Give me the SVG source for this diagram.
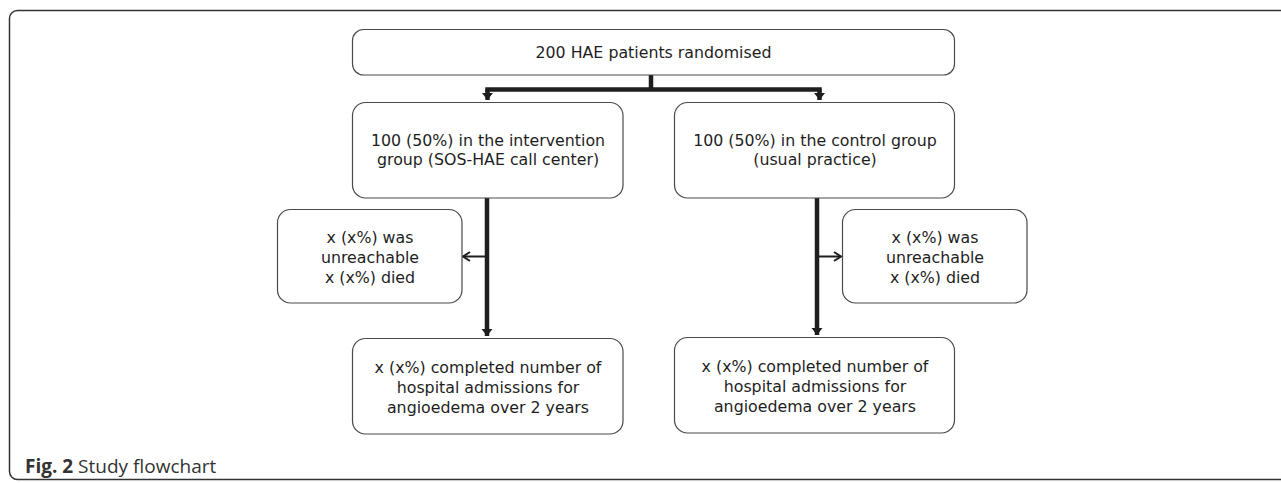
<svg xmlns="http://www.w3.org/2000/svg" width="1281" height="483" viewBox="0 0 1281 483">
  <style>
    .box { fill: #ffffff; stroke: #4a4a4a; stroke-width: 1.2; }
    .t { font-family: "DejaVu Sans", sans-serif; font-size: 15.8px; fill: #1e1e1e; text-anchor: middle; }
    .thick { fill: none; stroke: #1e1e1e; stroke-width: 4.5; }
    .thin { fill: none; stroke: #1e1e1e; stroke-width: 2; }
    .cap { font-family: "Open Sans", "Noto Sans", sans-serif; font-size: 19px; fill: #333333; }
  </style>
  <defs>
    <marker id="down" markerUnits="userSpaceOnUse" markerWidth="12" markerHeight="12" refX="8" refY="6" orient="auto" viewBox="0 0 12 12">
      <path d="M1,0.5 L1,11.5 L8,6 Z" fill="#1e1e1e"/>
    </marker>
    <marker id="open" markerUnits="userSpaceOnUse" markerWidth="12" markerHeight="12" refX="10" refY="6" orient="auto" viewBox="0 0 12 12">
      <path d="M3,1.5 L10,6 L3,10.5" fill="none" stroke="#1e1e1e" stroke-width="2"/>
    </marker>
  </defs>

  <rect x="9.5" y="10.5" width="1290" height="469" rx="8" ry="8" fill="#ffffff" stroke="#333333" stroke-width="1.5"/>

  <g id="connectors">
    <path class="thick" d="M651,75 L651,89.5"/>
    <path class="thick" d="M485.25,89.5 L821.75,89.5"/>
    <path class="thick" d="M487.5,89.5 L487.5,100" marker-end="url(#down)"/>
    <path class="thick" d="M819.5,89.5 L819.5,100" marker-end="url(#down)"/>
    <path class="thick" d="M487,198 L487,336" marker-end="url(#down)"/>
    <path class="thick" d="M817,198 L817,335" marker-end="url(#down)"/>
    <path class="thin" d="M487,256.5 L463,256.5" marker-end="url(#open)"/>
    <path class="thin" d="M817,256.5 L841,256.5" marker-end="url(#open)"/>
  </g>

  <g id="n-randomised">
    <rect class="box" x="352.5" y="29.5" width="602" height="45.5" rx="11"/>
    <text class="t" x="653.5" y="58">200 HAE patients randomised</text>
  </g>

  <g id="n-intervention">
    <rect class="box" x="352.5" y="102.5" width="270.5" height="95.5" rx="13"/>
    <text class="t" x="488" y="146">100 (50%) in the intervention</text>
    <text class="t" x="488" y="165">group (SOS-HAE call center)</text>
  </g>

  <g id="n-control">
    <rect class="box" x="674.5" y="102.5" width="280" height="95.5" rx="13"/>
    <text class="t" x="815" y="146">100 (50%) in the control group</text>
    <text class="t" x="815" y="165">(usual practice)</text>
  </g>

  <g id="n-lost-left">
    <rect class="box" x="277.5" y="209.5" width="184.5" height="93.5" rx="13"/>
    <text class="t" x="370" y="243">x (x%) was</text>
    <text class="t" x="370" y="263">unreachable</text>
    <text class="t" x="370" y="283">x (x%) died</text>
  </g>

  <g id="n-lost-right">
    <rect class="box" x="842.5" y="209.5" width="184.5" height="93.5" rx="13"/>
    <text class="t" x="935" y="243">x (x%) was</text>
    <text class="t" x="935" y="263">unreachable</text>
    <text class="t" x="935" y="283">x (x%) died</text>
  </g>

  <g id="n-completed-left">
    <rect class="box" x="352.5" y="338.5" width="270.5" height="95.5" rx="13"/>
    <text class="t" x="488" y="373">x (x%) completed number of</text>
    <text class="t" x="488" y="393">hospital admissions for</text>
    <text class="t" x="488" y="413">angioedema over 2 years</text>
  </g>

  <g id="n-completed-right">
    <rect class="box" x="674.5" y="337.5" width="280" height="95.5" rx="13"/>
    <text class="t" x="815" y="372">x (x%) completed number of</text>
    <text class="t" x="815" y="392">hospital admissions for</text>
    <text class="t" x="815" y="412">angioedema over 2 years</text>
  </g>

  <text class="cap" x="25" y="473"><tspan font-weight="bold">Fig. 2</tspan> Study flowchart</text>
</svg>
